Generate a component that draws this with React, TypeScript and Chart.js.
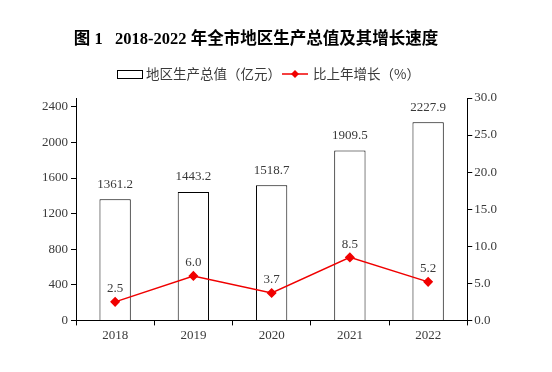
import React, { useEffect, useRef } from "react";
import { Chart, registerables } from "chart.js";

Chart.register(...registerables);

const years = ["2018", "2019", "2020", "2021", "2022"];
const gdpValues = [1361.2, 1443.2, 1518.7, 1909.5, 2227.9];
const growthValues = [2.5, 6.0, 3.7, 8.5, 5.2];
const leftTicks = [0, 400, 800, 1200, 1600, 2000, 2400];
const rightTicks = [0, 5, 10, 15, 20, 25, 30];

const titleText = "图 1   2018-2022 年全市地区生产总值及其增长速度";
const barLegend = "地区生产总值（亿元）";
const lineLegend = "比上年增长（%）";

const RED = "#f00000";
const TEXT = "#3a3a3a";
const NUM_FONT = '"Liberation Serif", "DejaVu Serif", serif';
const CJK_FONT = '"Noto Sans CJK SC", sans-serif';

const decorPlugin = {
  id: "decor",
  afterDraw(chart: any) {
    const ctx = chart.ctx;
    ctx.save();
    // Title
    ctx.fillStyle = "#000";
    ctx.textBaseline = "middle";
    ctx.textAlign = "left";
    ctx.font = 'bold 16.5px "Liberation Serif", "Noto Sans CJK SC", serif';
    const tw = ctx.measureText(titleText).width;
    ctx.fillText(titleText, 256 - tw / 2, 40);

    // Legend
    const ly = 74;
    ctx.strokeStyle = "#000";
    ctx.lineWidth = 1;
    ctx.strokeRect(117.5, 70.5, 25, 8);
    ctx.font = `13.5px ${CJK_FONT}`;
    ctx.fillStyle = TEXT;
    ctx.fillText(barLegend, 146, ly);
    const x = 146 + ctx.measureText(barLegend).width + 1;
    ctx.strokeStyle = RED;
    ctx.lineWidth = 1.5;
    ctx.beginPath();
    ctx.moveTo(x, ly);
    ctx.lineTo(x + 26, ly);
    ctx.stroke();
    const cx = x + 13;
    ctx.fillStyle = RED;
    ctx.beginPath();
    ctx.moveTo(cx, ly - 4);
    ctx.lineTo(cx + 4, ly);
    ctx.lineTo(cx, ly + 4);
    ctx.lineTo(cx - 4, ly);
    ctx.closePath();
    ctx.fill();
    ctx.fillStyle = TEXT;
    ctx.fillText(lineLegend, x + 31, ly);

    // Value labels
    ctx.textAlign = "center";
    ctx.textBaseline = "middle";
    ctx.font = `13px ${NUM_FONT}`;
    ctx.fillStyle = TEXT;
    const barMeta = chart.getDatasetMeta(0);
    barMeta.data.forEach((el: any, i: number) => {
      ctx.fillText(gdpValues[i].toFixed(1), el.x, el.y - 15);
    });
    const lineMeta = chart.getDatasetMeta(1);
    lineMeta.data.forEach((el: any, i: number) => {
      ctx.fillText(growthValues[i].toFixed(1), el.x, el.y - 13);
    });
    ctx.restore();
  },
};

export default function App() {
  const ref = useRef<HTMLCanvasElement | null>(null);
  useEffect(() => {
    if (!ref.current) return;
    const chart = new Chart(ref.current, {
      type: "bar",
      data: {
        labels: years,
        datasets: [
          {
            type: "bar",
            label: barLegend,
            data: gdpValues,
            backgroundColor: "#ffffff",
            borderColor: "#000000",
            borderWidth: 1,
            yAxisID: "y",
            categoryPercentage: 1,
            barPercentage: 0.4,
            order: 2,
          },
          {
            type: "line",
            label: lineLegend,
            data: growthValues,
            borderColor: RED,
            borderWidth: 1.5,
            backgroundColor: RED,
            pointStyle: "rectRot",
            pointRadius: 4,
            pointBackgroundColor: RED,
            pointBorderColor: RED,
            yAxisID: "y1",
            order: 1,
          } as any,
        ],
      },
      options: {
        animation: false,
        responsive: false,
        layout: { padding: { top: 98, left: 39, right: 53, bottom: 27 } },
        plugins: {
          legend: { display: false },
          title: { display: false },
          tooltip: { enabled: false },
        },
        scales: {
          x: {
            offset: true,
            grid: {
              display: true,
              drawOnChartArea: false,
              offset: true,
              tickLength: 5,
              color: "#000",
            },
            border: { color: "#000", width: 1 },
            ticks: { color: TEXT, font: { family: NUM_FONT, size: 13 }, padding: 2 },
          },
          y: {
            position: "left",
            min: 0,
            max: 2500,
            afterBuildTicks: (s: any) => {
              s.ticks = leftTicks.map((v) => ({ value: v }));
            },
            grid: { drawOnChartArea: false, tickLength: 5, color: "#000" },
            border: { color: "#000", width: 1 },
            ticks: {
              color: TEXT,
              font: { family: NUM_FONT, size: 13 },
              padding: 3,
              callback: (v: any) => String(v),
            },
          },
          y1: {
            position: "right",
            min: 0,
            max: 30,
            afterBuildTicks: (s: any) => {
              s.ticks = rightTicks.map((v) => ({ value: v }));
            },
            grid: { drawOnChartArea: false, tickLength: 5, color: "#000" },
            border: { color: "#000", width: 1 },
            ticks: {
              color: TEXT,
              font: { family: NUM_FONT, size: 13 },
              padding: 2,
              callback: (v: any) => Number(v).toFixed(1),
            },
          },
        },
      },
      plugins: [decorPlugin],
    });
    return () => chart.destroy();
  }, []);
  return (
    <div style={{ position: "fixed", left: 0, top: 0, width: 552, height: 372, background: "#fff" }}>
      <canvas ref={ref} width={552} height={372} style={{ width: 552, height: 372 }} />
    </div>
  );
}
